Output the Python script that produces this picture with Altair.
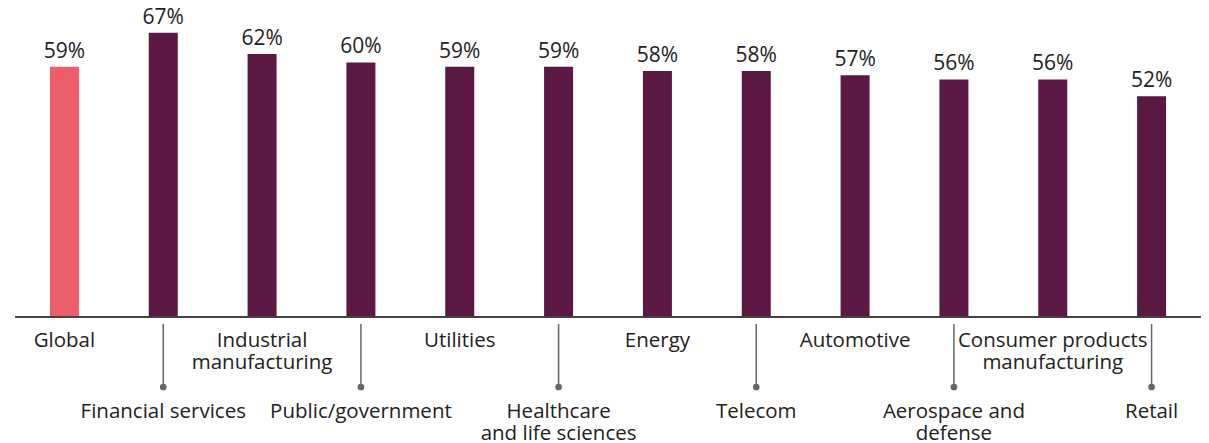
import altair as alt
import pandas as pd

categories = ["Global", "Financial services", "Industrial\nmanufacturing", "Public/government",
              "Utilities", "Healthcare\nand life sciences", "Energy", "Telecom",
              "Automotive", "Aerospace and\ndefense", "Consumer products\nmanufacturing", "Retail"]
values = [59, 67, 62, 60, 59, 59, 58, 58, 57, 56, 56, 52]
highlight = ["Global"]

df = pd.DataFrame({
    "cat": categories,
    "value": values,
    "idx": list(range(len(categories))),
})
df["label"] = df["value"].astype(str) + "%"
df["grp"] = ["hl" if c in highlight else "other" for c in df["cat"]]
df["level"] = ["low" if i % 2 == 1 else "high" for i in df["idx"]]

FONT = "Open Sans"
FS = 20.5
W, H = 1186, 297

x = alt.X("idx:O", scale=alt.Scale(paddingInner=0, paddingOuter=0), axis=None)
y = alt.Y("value:Q", scale=alt.Scale(domain=[0, 70]), axis=None)

base = alt.Chart(df)

bars = base.mark_bar(size=29).encode(
    x=x, y=y,
    color=alt.Color("grp:N", scale=alt.Scale(domain=["hl", "other"], range=["#EC5E6A", "#5A1842"]), legend=None),
)

vals = base.mark_text(baseline="alphabetic", dy=-9, fontSize=21, font=FONT, color="#222222").encode(
    x=x, y=y, text="label:N")

axis_line = base.mark_rule(color="#444444", strokeWidth=1.5).encode(
    x=alt.value(0), x2=alt.value(1186), y=alt.value(H))

high = base.transform_filter(alt.datum.level == "high")
low = base.transform_filter(alt.datum.level == "low")

high_labels = high.mark_text(baseline="alphabetic", fontSize=FS, font=FONT, color="#222222",
                             lineBreak="\n", lineHeight=22).encode(
    x=x, y=alt.value(327), text="cat:N")

leaders = low.mark_rule(color="#666666", strokeWidth=1.5).encode(
    x=x, y=alt.value(304), y2=alt.value(367))

dots = low.mark_circle(color="#666666", size=45, opacity=1).encode(
    x=x, y=alt.value(367))

low_labels = low.mark_text(baseline="alphabetic", fontSize=FS, font=FONT, color="#222222",
                           lineBreak="\n", lineHeight=22).encode(
    x=x, y=alt.value(398), text="cat:N")

chart = alt.layer(bars, vals, axis_line, high_labels, leaders, dots, low_labels).properties(
    width=W, height=H,
    padding={"left": 7, "top": 12, "right": 0, "bottom": 128},
    autosize=alt.AutoSizeParams(type="none"),
).configure_view(stroke=None)

chart.save("out.html", embed_options={"renderer": "svg", "actions": False})
